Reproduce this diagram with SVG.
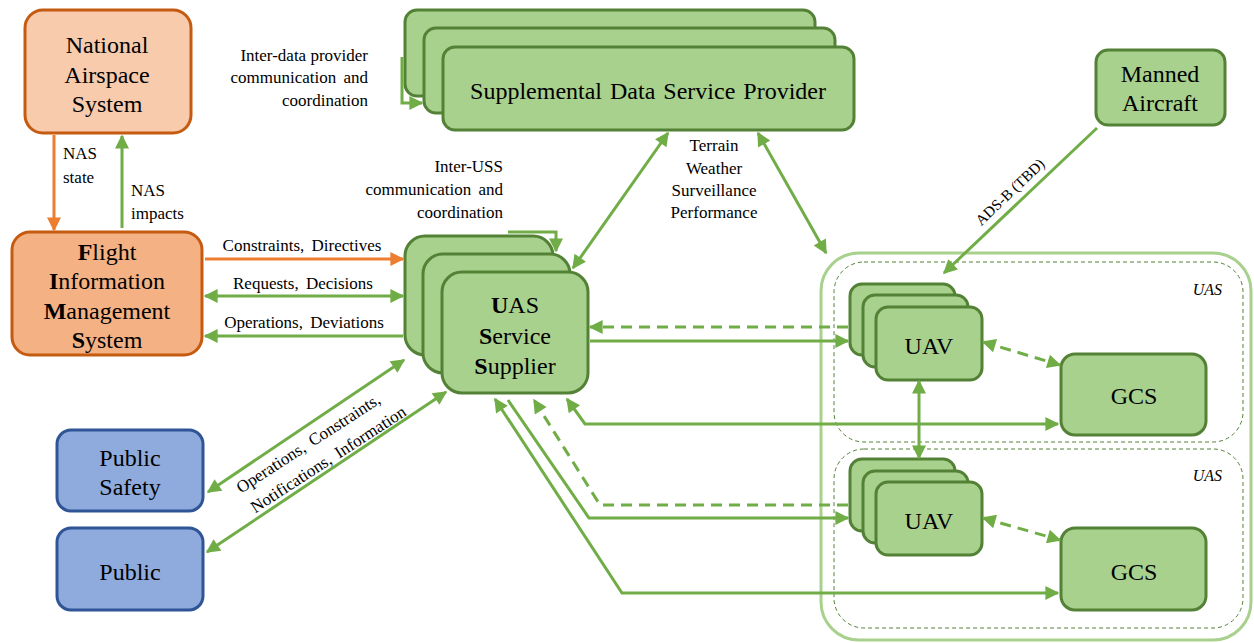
<svg xmlns="http://www.w3.org/2000/svg" width="1254" height="643" viewBox="0 0 1254 643">
<defs>
<marker id="ag" viewBox="0 0 10 10" refX="9" refY="5" markerWidth="17" markerHeight="14" markerUnits="userSpaceOnUse" orient="auto-start-reverse"><path d="M0,0 L10,5 L0,10 z" fill="#70AD47"/></marker>
<marker id="ao" viewBox="0 0 10 10" refX="9" refY="5" markerWidth="17" markerHeight="14" markerUnits="userSpaceOnUse" orient="auto-start-reverse"><path d="M0,0 L10,5 L0,10 z" fill="#ED7D31"/></marker>
</defs>

<g id="uas-container">
<rect x="821" y="253" width="430" height="387" rx="38" fill="none" stroke="#A9D18E" stroke-width="3"/>
<rect x="834" y="262" width="409" height="180" rx="30" fill="none" stroke="#538135" stroke-width="1" stroke-dasharray="4,3"/>
<rect x="834" y="449" width="409" height="179" rx="30" fill="none" stroke="#538135" stroke-width="1" stroke-dasharray="4,3"/>
<text font-family="Liberation Serif, serif" x="1222" y="295" font-size="16" font-style="italic" text-anchor="end">UAS</text>
<text font-family="Liberation Serif, serif" x="1222" y="481" font-size="16" font-style="italic" text-anchor="end">UAS</text>
</g>

<g id="nas" font-family="Liberation Serif, serif" font-size="24" text-anchor="middle">
<rect fill="#F8CBAD" stroke="#C55A11" stroke-width="3" x="25" y="10" width="166" height="123" rx="18"/>
<text x="107" y="53">National</text>
<text x="107" y="83">Airspace</text>
<text x="107" y="112">System</text>
</g>

<g id="fims" font-family="Liberation Serif, serif" font-size="24" text-anchor="middle">
<rect fill="#F4B183" stroke="#C55A11" stroke-width="3" x="12" y="232" width="190" height="123" rx="18"/>
<text x="107" y="260"><tspan font-weight="bold">F</tspan>light</text>
<text x="107" y="289"><tspan font-weight="bold">I</tspan>nformation</text>
<text x="107" y="319"><tspan font-weight="bold">M</tspan>anagement</text>
<text x="107" y="348"><tspan font-weight="bold">S</tspan>ystem</text>
</g>

<g id="sdsp" font-family="Liberation Serif, serif" font-size="24" text-anchor="middle" fill="#A9D18E" stroke="#538135" stroke-width="3">
<rect x="405" y="10" width="410" height="86" rx="12"/>
<rect x="424" y="28" width="411" height="85" rx="12"/>
<rect x="443" y="47" width="411" height="83" rx="12"/>
<text fill="#000" stroke="none" x="648" y="99" word-spacing="2">Supplemental  Data Service Provider</text>
</g>

<g id="uss" font-family="Liberation Serif, serif" font-size="24" text-anchor="middle" fill="#A9D18E" stroke="#538135" stroke-width="3">
<rect x="405" y="236" width="148" height="119" rx="20"/>
<rect x="423" y="254" width="147" height="119" rx="20"/>
<rect x="442" y="272" width="146" height="121" rx="20"/>
<g fill="#000" stroke="none">
<text x="515" y="313"><tspan font-weight="bold">U</tspan>AS</text>
<text x="515" y="344"><tspan font-weight="bold">S</tspan>ervice</text>
<text x="515" y="374"><tspan font-weight="bold">S</tspan>upplier</text>
</g>
</g>

<g id="manned" font-family="Liberation Serif, serif" font-size="24" text-anchor="middle">
<rect fill="#A9D18E" stroke="#538135" stroke-width="3" x="1096" y="50" width="129" height="75" rx="12"/>
<text x="1160" y="82">Manned</text>
<text x="1160" y="111">Aircraft</text>
</g>

<g id="uav1" font-family="Liberation Serif, serif" font-size="24" text-anchor="middle" fill="#A9D18E" stroke="#538135" stroke-width="3">
<rect x="850" y="284" width="105" height="71" rx="12"/>
<rect x="863" y="295" width="105" height="72" rx="12"/>
<rect x="876" y="307" width="106" height="73" rx="12"/>
<text fill="#000" stroke="none" x="929" y="354">UAV</text>
</g>

<g id="uav2" font-family="Liberation Serif, serif" font-size="24" text-anchor="middle" fill="#A9D18E" stroke="#538135" stroke-width="3">
<rect x="850" y="459" width="105" height="72" rx="12"/>
<rect x="863" y="471" width="105" height="72" rx="12"/>
<rect x="876" y="482" width="106" height="73" rx="12"/>
<text fill="#000" stroke="none" x="929" y="529">UAV</text>
</g>

<g id="gcs1" font-family="Liberation Serif, serif" font-size="24" text-anchor="middle">
<rect fill="#A9D18E" stroke="#538135" stroke-width="3" x="1061" y="354" width="145" height="81" rx="14"/>
<text x="1134" y="404">GCS</text>
</g>

<g id="gcs2" font-family="Liberation Serif, serif" font-size="24" text-anchor="middle">
<rect fill="#A9D18E" stroke="#538135" stroke-width="3" x="1061" y="528" width="145" height="82" rx="14"/>
<text x="1134" y="580">GCS</text>
</g>

<g id="public-safety" font-family="Liberation Serif, serif" font-size="24" text-anchor="middle">
<rect fill="#8FAADC" stroke="#2F5597" stroke-width="3" x="57" y="430" width="146" height="81" rx="14"/>
<text x="130" y="466">Public</text>
<text x="130" y="495">Safety</text>
</g>

<g id="public" font-family="Liberation Serif, serif" font-size="24" text-anchor="middle">
<rect fill="#8FAADC" stroke="#2F5597" stroke-width="3" x="57" y="528" width="146" height="82" rx="14"/>
<text x="130" y="580">Public</text>
</g>

<g id="connectors" fill="none" stroke="#70AD47" stroke-width="3">
<line stroke="#ED7D31" x1="54" y1="135" x2="54" y2="230" marker-end="url(#ao)"/>
<line x1="122" y1="228" x2="122" y2="136" marker-end="url(#ag)"/>
<line stroke="#ED7D31" x1="205" y1="259" x2="403" y2="259" marker-end="url(#ao)"/>
<line x1="205" y1="296" x2="403" y2="296" marker-start="url(#ag)" marker-end="url(#ag)"/>
<line x1="403" y1="336" x2="205" y2="336" marker-end="url(#ag)"/>
<polyline points="402,57 402,103 422,103" marker-end="url(#ag)"/>
<polyline points="508,232 556,232 556,251" marker-end="url(#ag)"/>
<line x1="668" y1="133" x2="573" y2="268" marker-start="url(#ag)" marker-end="url(#ag)"/>
<line x1="758" y1="133" x2="826" y2="253" marker-start="url(#ag)" marker-end="url(#ag)"/>
<line x1="1097" y1="128" x2="944" y2="273" marker-end="url(#ag)"/>
<line stroke-dasharray="11,7" x1="848" y1="327" x2="590" y2="327" marker-end="url(#ag)"/>
<line x1="590" y1="341" x2="848" y2="341" marker-end="url(#ag)"/>
<polyline points="567,399 585,424 1058,424" marker-start="url(#ag)" marker-end="url(#ag)"/>
<polyline stroke-dasharray="11,7" points="848,505 600,505 534,400" marker-end="url(#ag)"/>
<polyline points="508,400 589,518 848,518" marker-end="url(#ag)"/>
<polyline points="495,399 622,593 1058,593" marker-start="url(#ag)" marker-end="url(#ag)"/>
<line x1="919" y1="381" x2="919" y2="458" marker-start="url(#ag)" marker-end="url(#ag)"/>
<line stroke-dasharray="11,7" x1="983" y1="342" x2="1060" y2="365" marker-start="url(#ag)" marker-end="url(#ag)"/>
<line stroke-dasharray="11,7" x1="983" y1="518" x2="1060" y2="540" marker-start="url(#ag)" marker-end="url(#ag)"/>
<line x1="208" y1="492" x2="404" y2="360" marker-start="url(#ag)" marker-end="url(#ag)"/>
<line x1="207" y1="552" x2="446" y2="392" marker-start="url(#ag)" marker-end="url(#ag)"/>
</g>

<g id="labels" font-family="Liberation Serif, serif" font-size="17">
<text x="63" y="159">NAS</text>
<text x="63" y="183">state</text>
<text x="131" y="196">NAS</text>
<text x="131" y="219">impacts</text>
<text x="302" y="251" text-anchor="middle" word-spacing="3">Constraints, Directives</text>
<text x="303" y="289" text-anchor="middle" word-spacing="3">Requests, Decisions</text>
<text x="304" y="328" text-anchor="middle" word-spacing="3">Operations, Deviations</text>
<text x="368" y="61" text-anchor="end">Inter-data provider</text>
<text x="368" y="83" text-anchor="end" word-spacing="3">communication and</text>
<text x="368" y="106" text-anchor="end">coordination</text>
<text x="503" y="172" text-anchor="end">Inter-USS</text>
<text x="503" y="195" text-anchor="end" word-spacing="3">communication and</text>
<text x="503" y="218" text-anchor="end">coordination</text>
<text x="714" y="151" text-anchor="middle">Terrain</text>
<text x="714" y="174" text-anchor="middle">Weather</text>
<text x="714" y="196" text-anchor="middle">Surveillance</text>
<text x="714" y="218" text-anchor="middle">Performance</text>
<text font-size="15" text-anchor="middle" transform="translate(1010,192) rotate(-43.5)" y="5">ADS-B (TBD)</text>
<text text-anchor="middle" transform="translate(308,443) rotate(-33)" y="6" word-spacing="3">Operations, Constraints,</text>
<text text-anchor="middle" transform="translate(328,459) rotate(-33)" y="6" word-spacing="3">Notifications, Information</text>
</g>
</svg>
